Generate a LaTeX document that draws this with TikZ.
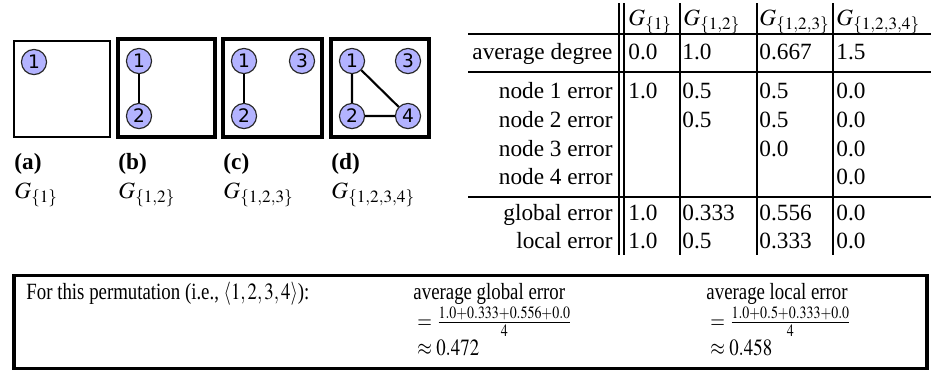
\documentclass[tikz,border=0pt]{standalone}
\usepackage{mathptmx}
\usepackage[no-math]{fontspec}
\setmainfont{Liberation Serif}
\newfontfamily\vertexfont{DejaVu Sans}
\usetikzlibrary{positioning}
\definecolor{vertexfill}{RGB}{179,179,255}
\newcommand{\squeezed}[1]{\scalebox{0.81}[1]{#1}}
\tikzset{
  vertex/.style={circle,draw=black!85,fill=vertexfill,line width=0.5pt,minimum size=10.8pt,
    inner sep=0pt,font=\vertexfont\fontsize{8}{8}\selectfont},
  graphbox/.style={draw,line width=1.5pt},
  gedge/.style={line width=0.9pt},
  tabrule/.style={line width=0.85pt},
  cell/.style={anchor=base west,inner sep=0pt},
  rowlabel/.style={anchor=base east,inner sep=0pt},
  boxtext/.style={anchor=base west,inner sep=0pt}
}

\begin{document}
\begin{tikzpicture}[x=0.43pt,y=-0.43pt]
  \useasboundingbox (0,0) rectangle (931,381);
  % the four graphs
  \draw[graphbox,line width=1.1pt] (14,41) rectangle (110,137);
  \draw[graphbox] (118,39) rectangle (215,137);
  \draw[graphbox] (223,39) rectangle (322,137);
  \draw[graphbox] (331,39) rectangle (429,137);
  \node[vertex] (a1) at (34,62) {1};
  \node[vertex] (b1) at (139,61) {1};
  \node[vertex] (b2) at (139,116) {2};
  \node[vertex] (c1) at (244,61) {1};
  \node[vertex] (c3) at (302,61) {3};
  \node[vertex] (c2) at (244,116) {2};
  \node[vertex] (d1) at (352,61) {1};
  \node[vertex] (d3) at (408,61) {3};
  \node[vertex] (d2) at (352,116) {2};
  \node[vertex] (d4) at (408,116) {4};
  \draw[gedge] (b1) -- (b2);
  \draw[gedge] (c1) -- (c2);
  \draw[gedge] (d1) -- (d2) -- (d4) -- (d1);
  \foreach \x/\l/\s in {14/a/{1},118/b/{1,2},223/c/{1,2,3},331/d/{1,2,3,4}} {
    \node[boxtext] (cap\l) at (\x,169) {\textbf{(\l)}};
    \node[boxtext] (name\l) at (\x,198) {$G_{\{\s\}}$};
  }

  % table
  \foreach \x/\s [count=\c] in {628/{1},683/{1,2},759/{1,2,3},836/{1,2,3,4}}
    \node[cell] (head\c) at (\x,25) {$G_{\{\s\}}$};
  \foreach \y/\t [count=\r] in {59/average degree,98/node 1 error,127/node 2 error,
      156/node 3 error,184/node 4 error,220/global error,248/local error}
    \node[rowlabel] (row\r) at (613,\y) {\t};
  \foreach \y/\rid/\s/\vals in {59/deg/1/{0.0,1.0,0.667,1.5},98/nodeA/1/{1.0,0.5,0.5,0.0},
      127/nodeB/2/{0.5,0.5,0.0},156/nodeC/3/{0.0,0.0},184/nodeD/4/{0.0},
      220/glob/1/{1.0,0.333,0.556,0.0},248/loc/1/{1.0,0.5,0.333,0.0}}
    \foreach \v [count=\c from \s] in \vals {
      \pgfmathsetmacro\cx{{628,682,759,836}[\c-1]}
      \node[cell] (\rid-\c) at (\cx,\y) {\v};
    }
  \foreach \y in {34,72,197}
    \draw[tabrule] (468,\y) -- (931,\y);
  \foreach \x in {619,624,680,757,833}
    \draw[tabrule] (\x,3) -- (\x,255);

  % averages for this permutation
  \draw[line width=1.3pt] (14,275) rectangle (927,368);
  \node[boxtext] (perm) at (26,299) {\squeezed{For this permutation (i.e., $\langle 1,2,3,4\rangle$):}};
  \node[boxtext] (glob) at (413,299) {\squeezed{average global error}};
  \node[boxtext] (globeq) at (417,328) {\squeezed{$=\frac{1.0+0.333+0.556+0.0}{4}$}};
  \node[boxtext] (globval) at (417,355) {\squeezed{$\approx 0.472$}};
  \node[boxtext] (loc) at (706,299) {\squeezed{average local error}};
  \node[boxtext] (loceq) at (710,328) {\squeezed{$=\frac{1.0+0.5+0.333+0.0}{4}$}};
  \node[boxtext] (locval) at (710,355) {\squeezed{$\approx 0.458$}};
\end{tikzpicture}
\end{document}
